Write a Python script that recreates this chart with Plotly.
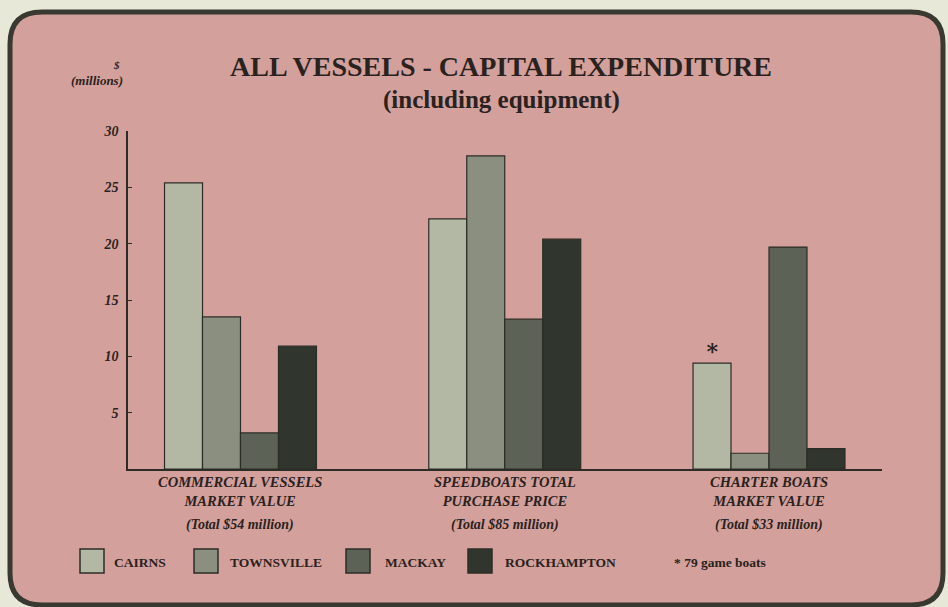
import plotly.graph_objects as go

# ---- data ----
categories = ["COMMERCIAL VESSELS<br>MARKET VALUE",
              "SPEEDBOATS TOTAL<br>PURCHASE PRICE",
              "CHARTER BOATS<br>MARKET VALUE"]
totals = ["(Total $54 million)", "(Total $85 million)", "(Total $33 million)"]
series_names = ["CAIRNS", "TOWNSVILLE", "MACKAY", "ROCKHAMPTON"]
cairns = [25.4, 22.2, 9.4]
townsville = [13.5, 27.8, 1.4]
mackay = [3.2, 13.3, 19.7]
rockhampton = [10.9, 20.4, 1.8]
cairns_marks = ["", "", "<b>∗</b>"]
y_ticks = [5, 10, 15, 20, 25, 30]
footnote = "* 79 game boats"

# ---- style ----
W, H = 948, 607
L, R, T, B = 128, 882, 131, 469
colors = ["#b3b8a5", "#8a8f80", "#5c6356", "#30352e"]
edge = "#2c2c27"
pink = "#d4a09b"
outer = "#e7e8d8"
ink = "#2a2220"
serif = "Liberation Serif"

def px(p):
    return (p - L) / (R - L)

def py(p):
    return (B - p) / (B - T)

xpos = list(range(len(categories)))
values = [cairns, townsville, mackay, rockhampton]

fig = go.Figure()
for i, (name, vals) in enumerate(zip(series_names, values)):
    kw = {}
    if i == 0:
        kw = dict(text=cairns_marks, textposition="outside",
                  textfont=dict(family="DejaVu Serif", size=22, color=ink),
                  cliponaxis=False)
    fig.add_trace(go.Bar(
        x=xpos, y=vals, name=name,
        marker=dict(color=colors[i], line=dict(color=edge, width=1.2)),
        showlegend=False, hoverinfo="y", **kw))

# rounded panel
x0, y0, x1, y1, r = 10, 12, 943, 605, 32
path = (f"M {px(x0+r)},{py(y0)} L {px(x1-r)},{py(y0)} "
        f"Q {px(x1)},{py(y0)} {px(x1)},{py(y0+r)} "
        f"L {px(x1)},{py(y1-r)} Q {px(x1)},{py(y1)} {px(x1-r)},{py(y1)} "
        f"L {px(x0+r)},{py(y1)} Q {px(x0)},{py(y1)} {px(x0)},{py(y1-r)} "
        f"L {px(x0)},{py(y0+r)} Q {px(x0)},{py(y0)} {px(x0+r)},{py(y0)} Z")
shapes = [dict(type="path", xref="paper", yref="paper", path=path,
               fillcolor=pink, line=dict(color="#393932", width=5), layer="below")]

annotations = []
# title
annotations.append(dict(text="<b>ALL VESSELS - CAPITAL EXPENDITURE</b>", x=px(501), y=py(67),
                        xref="paper", yref="paper", showarrow=False, xanchor="center", yanchor="middle",
                        font=dict(family=serif, size=28, color=ink)))
annotations.append(dict(text="<b>(including equipment)</b>", x=px(501), y=py(100),
                        xref="paper", yref="paper", showarrow=False, xanchor="center", yanchor="middle",
                        font=dict(family=serif, size=25, color=ink)))
annotations.append(dict(text="<b><i>$</i></b>", x=px(122), y=py(65),
                        xref="paper", yref="paper", showarrow=False, xanchor="right", yanchor="middle",
                        font=dict(family=serif, size=11, color=ink)))
annotations.append(dict(text="<b><i>(millions)</i></b>", x=px(125), y=py(80),
                        xref="paper", yref="paper", showarrow=False, xanchor="right", yanchor="middle",
                        font=dict(family=serif, size=13, color=ink)))

# category labels
for xi, cat, tot in zip(xpos, categories, totals):
    annotations.append(dict(text=f"<b><i>{cat}</i></b>", x=xi, y=py(491), xref="x", yref="paper",
                            showarrow=False, xanchor="center", yanchor="middle",
                            font=dict(family=serif, size=14.5, color=ink)))
    annotations.append(dict(text=f"<b><i>{tot}</i></b>", x=xi, y=py(525), xref="x", yref="paper",
                            showarrow=False, xanchor="center", yanchor="middle",
                            font=dict(family=serif, size=14, color=ink)))

# manual legend
sq_x = [80, 194, 346, 468]
tx_x = [112, 228, 383, 503]
for name, c, sx, tx in zip(series_names, colors, sq_x, tx_x):
    shapes.append(dict(type="rect", xref="paper", yref="paper",
                       x0=px(sx), x1=px(sx + 24), y0=py(573), y1=py(549),
                       fillcolor=c, line=dict(color=edge, width=1.5)))
    annotations.append(dict(text=f"<b>{name}</b>", x=px(tx), y=py(562), xref="paper", yref="paper",
                            showarrow=False, xanchor="left", yanchor="middle",
                            font=dict(family=serif, size=13.5, color=ink)))
annotations.append(dict(text=f"<b>{footnote}</b>", x=px(672), y=py(562), xref="paper", yref="paper",
                        showarrow=False, xanchor="left", yanchor="middle",
                        font=dict(family=serif, size=13.5, color=ink)))

fig.update_layout(
    width=W, height=H,
    margin=dict(l=L, r=W - R, t=T, b=H - B, pad=0),
    paper_bgcolor=outer, plot_bgcolor="rgba(0,0,0,0)",
    barmode="group", bargap=0.425, bargroupgap=0,
    shapes=shapes, annotations=annotations,
    xaxis=dict(range=[-0.4257, 2.4276], showgrid=False, zeroline=False,
               showticklabels=False, ticks="", showline=True,
               linecolor=edge, linewidth=1.5, fixedrange=True),
    yaxis=dict(range=[0, 30], tickvals=y_ticks, showgrid=False, zeroline=False,
               showline=True, linecolor=edge, linewidth=1.5,
               ticks="inside", ticklen=4, tickcolor=edge, tickwidth=1.2,
               tickfont=dict(family=serif, size=14, color=ink, style="italic", weight="bold"),
               ticklabelstandoff=5, fixedrange=True),
)

fig.write_html("out.html", config={"displayModeBar": False},
               post_script="document.body.style.margin='0';document.body.style.background='#e7e8d8';")
